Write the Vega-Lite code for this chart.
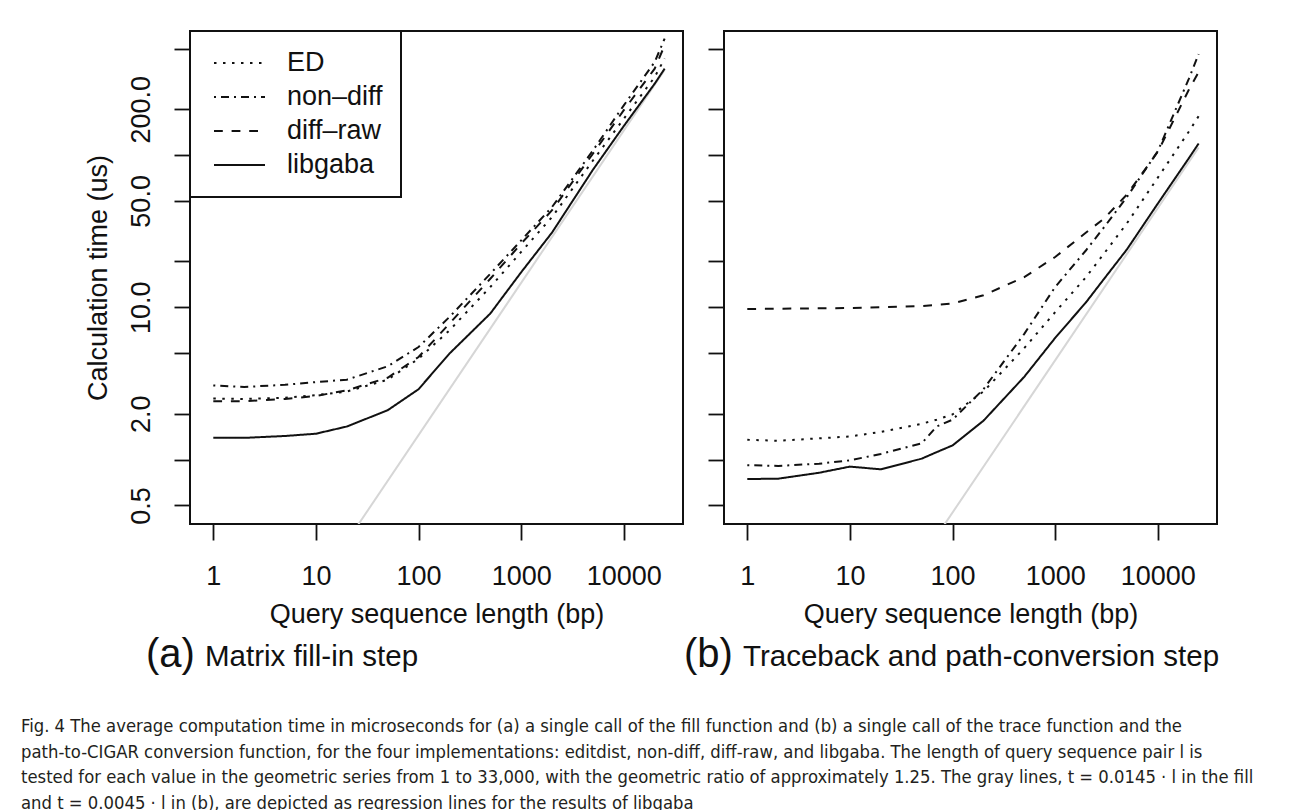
{
  "$schema": "https://vega.github.io/schema/vega-lite/v6.json",
  "background": "white",
  "padding": {"left": 20, "top": 30, "right": 0, "bottom": 0},
  "datasets": {
    "timing": [
      {"panel": "a", "impl": "ED", "l": 1, "t": 2.52},
      {"panel": "a", "impl": "ED", "l": 2, "t": 2.5},
      {"panel": "a", "impl": "ED", "l": 5, "t": 2.55},
      {"panel": "a", "impl": "ED", "l": 10, "t": 2.65},
      {"panel": "a", "impl": "ED", "l": 20, "t": 2.8},
      {"panel": "a", "impl": "ED", "l": 50, "t": 3.35},
      {"panel": "a", "impl": "ED", "l": 100, "t": 4.6},
      {"panel": "a", "impl": "ED", "l": 200, "t": 7.06},
      {"panel": "a", "impl": "ED", "l": 500, "t": 13.6},
      {"panel": "a", "impl": "ED", "l": 1000, "t": 23.1},
      {"panel": "a", "impl": "ED", "l": 2000, "t": 39.2},
      {"panel": "a", "impl": "ED", "l": 5000, "t": 92},
      {"panel": "a", "impl": "ED", "l": 10000, "t": 173},
      {"panel": "a", "impl": "ED", "l": 20000, "t": 325},
      {"panel": "a", "impl": "ED", "l": 25000, "t": 430},
      {"panel": "a", "impl": "non–diff", "l": 1, "t": 3.07},
      {"panel": "a", "impl": "non–diff", "l": 2, "t": 3.0},
      {"panel": "a", "impl": "non–diff", "l": 5, "t": 3.1},
      {"panel": "a", "impl": "non–diff", "l": 10, "t": 3.23},
      {"panel": "a", "impl": "non–diff", "l": 20, "t": 3.35},
      {"panel": "a", "impl": "non–diff", "l": 50, "t": 4.1},
      {"panel": "a", "impl": "non–diff", "l": 100, "t": 5.49},
      {"panel": "a", "impl": "non–diff", "l": 200, "t": 8.64},
      {"panel": "a", "impl": "non–diff", "l": 500, "t": 16.6},
      {"panel": "a", "impl": "non–diff", "l": 1000, "t": 27.5},
      {"panel": "a", "impl": "non–diff", "l": 2000, "t": 45.6},
      {"panel": "a", "impl": "non–diff", "l": 5000, "t": 107},
      {"panel": "a", "impl": "non–diff", "l": 10000, "t": 212},
      {"panel": "a", "impl": "non–diff", "l": 20000, "t": 408},
      {"panel": "a", "impl": "non–diff", "l": 25000, "t": 581},
      {"panel": "a", "impl": "diff–raw", "l": 1, "t": 2.42},
      {"panel": "a", "impl": "diff–raw", "l": 2, "t": 2.42},
      {"panel": "a", "impl": "diff–raw", "l": 5, "t": 2.5},
      {"panel": "a", "impl": "diff–raw", "l": 10, "t": 2.62},
      {"panel": "a", "impl": "diff–raw", "l": 20, "t": 2.85},
      {"panel": "a", "impl": "diff–raw", "l": 50, "t": 3.45},
      {"panel": "a", "impl": "diff–raw", "l": 100, "t": 4.72},
      {"panel": "a", "impl": "diff–raw", "l": 200, "t": 7.82},
      {"panel": "a", "impl": "diff–raw", "l": 500, "t": 15.4},
      {"panel": "a", "impl": "diff–raw", "l": 1000, "t": 26.2},
      {"panel": "a", "impl": "diff–raw", "l": 2000, "t": 43.4},
      {"panel": "a", "impl": "diff–raw", "l": 5000, "t": 102},
      {"panel": "a", "impl": "diff–raw", "l": 10000, "t": 197},
      {"panel": "a", "impl": "diff–raw", "l": 20000, "t": 369},
      {"panel": "a", "impl": "diff–raw", "l": 25000, "t": 525},
      {"panel": "a", "impl": "libgaba", "l": 1, "t": 1.39},
      {"panel": "a", "impl": "libgaba", "l": 2, "t": 1.39},
      {"panel": "a", "impl": "libgaba", "l": 5, "t": 1.43},
      {"panel": "a", "impl": "libgaba", "l": 10, "t": 1.48},
      {"panel": "a", "impl": "libgaba", "l": 20, "t": 1.65},
      {"panel": "a", "impl": "libgaba", "l": 50, "t": 2.11},
      {"panel": "a", "impl": "libgaba", "l": 100, "t": 2.9},
      {"panel": "a", "impl": "libgaba", "l": 200, "t": 4.97},
      {"panel": "a", "impl": "libgaba", "l": 500, "t": 9.1},
      {"panel": "a", "impl": "libgaba", "l": 1000, "t": 17},
      {"panel": "a", "impl": "libgaba", "l": 2000, "t": 31},
      {"panel": "a", "impl": "libgaba", "l": 5000, "t": 80},
      {"panel": "a", "impl": "libgaba", "l": 10000, "t": 155},
      {"panel": "a", "impl": "libgaba", "l": 20000, "t": 294},
      {"panel": "a", "impl": "libgaba", "l": 25000, "t": 369},

      {"panel": "b", "impl": "ED", "l": 1, "t": 1.35},
      {"panel": "b", "impl": "ED", "l": 2, "t": 1.33},
      {"panel": "b", "impl": "ED", "l": 5, "t": 1.38},
      {"panel": "b", "impl": "ED", "l": 10, "t": 1.42},
      {"panel": "b", "impl": "ED", "l": 20, "t": 1.52},
      {"panel": "b", "impl": "ED", "l": 50, "t": 1.72},
      {"panel": "b", "impl": "ED", "l": 70, "t": 1.83},
      {"panel": "b", "impl": "ED", "l": 100, "t": 1.98},
      {"panel": "b", "impl": "ED", "l": 200, "t": 2.8},
      {"panel": "b", "impl": "ED", "l": 500, "t": 5.4},
      {"panel": "b", "impl": "ED", "l": 1000, "t": 9.3},
      {"panel": "b", "impl": "ED", "l": 2000, "t": 15.8},
      {"panel": "b", "impl": "ED", "l": 3000, "t": 22.6},
      {"panel": "b", "impl": "ED", "l": 5000, "t": 35.6},
      {"panel": "b", "impl": "ED", "l": 10000, "t": 71},
      {"panel": "b", "impl": "ED", "l": 20000, "t": 142},
      {"panel": "b", "impl": "ED", "l": 25000, "t": 180},
      {"panel": "b", "impl": "non–diff", "l": 1, "t": 0.92},
      {"panel": "b", "impl": "non–diff", "l": 2, "t": 0.91},
      {"panel": "b", "impl": "non–diff", "l": 5, "t": 0.94},
      {"panel": "b", "impl": "non–diff", "l": 10, "t": 0.99},
      {"panel": "b", "impl": "non–diff", "l": 20, "t": 1.09},
      {"panel": "b", "impl": "non–diff", "l": 50, "t": 1.28},
      {"panel": "b", "impl": "non–diff", "l": 70, "t": 1.65},
      {"panel": "b", "impl": "non–diff", "l": 100, "t": 1.83},
      {"panel": "b", "impl": "non–diff", "l": 200, "t": 2.9},
      {"panel": "b", "impl": "non–diff", "l": 500, "t": 6.7},
      {"panel": "b", "impl": "non–diff", "l": 1000, "t": 13.6},
      {"panel": "b", "impl": "non–diff", "l": 2000, "t": 23.7},
      {"panel": "b", "impl": "non–diff", "l": 3000, "t": 33.6},
      {"panel": "b", "impl": "non–diff", "l": 5000, "t": 53},
      {"panel": "b", "impl": "non–diff", "l": 10000, "t": 106},
      {"panel": "b", "impl": "non–diff", "l": 20000, "t": 315},
      {"panel": "b", "impl": "non–diff", "l": 25000, "t": 460},
      {"panel": "b", "impl": "diff–raw", "l": 1, "t": 9.75},
      {"panel": "b", "impl": "diff–raw", "l": 2, "t": 9.8},
      {"panel": "b", "impl": "diff–raw", "l": 5, "t": 9.85},
      {"panel": "b", "impl": "diff–raw", "l": 10, "t": 9.9},
      {"panel": "b", "impl": "diff–raw", "l": 20, "t": 10.0},
      {"panel": "b", "impl": "diff–raw", "l": 50, "t": 10.2},
      {"panel": "b", "impl": "diff–raw", "l": 70, "t": 10.4},
      {"panel": "b", "impl": "diff–raw", "l": 100, "t": 10.6},
      {"panel": "b", "impl": "diff–raw", "l": 200, "t": 12.0},
      {"panel": "b", "impl": "diff–raw", "l": 500, "t": 15.8},
      {"panel": "b", "impl": "diff–raw", "l": 1000, "t": 21.4},
      {"panel": "b", "impl": "diff–raw", "l": 2000, "t": 31},
      {"panel": "b", "impl": "diff–raw", "l": 3000, "t": 38.3},
      {"panel": "b", "impl": "diff–raw", "l": 5000, "t": 55},
      {"panel": "b", "impl": "diff–raw", "l": 10000, "t": 105},
      {"panel": "b", "impl": "diff–raw", "l": 20000, "t": 267},
      {"panel": "b", "impl": "diff–raw", "l": 25000, "t": 351},
      {"panel": "b", "impl": "libgaba", "l": 1, "t": 0.746},
      {"panel": "b", "impl": "libgaba", "l": 2, "t": 0.75},
      {"panel": "b", "impl": "libgaba", "l": 5, "t": 0.82},
      {"panel": "b", "impl": "libgaba", "l": 10, "t": 0.9},
      {"panel": "b", "impl": "libgaba", "l": 20, "t": 0.864},
      {"panel": "b", "impl": "libgaba", "l": 50, "t": 1.015},
      {"panel": "b", "impl": "libgaba", "l": 70, "t": 1.12},
      {"panel": "b", "impl": "libgaba", "l": 100, "t": 1.24},
      {"panel": "b", "impl": "libgaba", "l": 200, "t": 1.8},
      {"panel": "b", "impl": "libgaba", "l": 500, "t": 3.5},
      {"panel": "b", "impl": "libgaba", "l": 1000, "t": 6.3},
      {"panel": "b", "impl": "libgaba", "l": 2000, "t": 10.8},
      {"panel": "b", "impl": "libgaba", "l": 3000, "t": 15.4},
      {"panel": "b", "impl": "libgaba", "l": 5000, "t": 24},
      {"panel": "b", "impl": "libgaba", "l": 10000, "t": 48},
      {"panel": "b", "impl": "libgaba", "l": 20000, "t": 95},
      {"panel": "b", "impl": "libgaba", "l": 25000, "t": 119}
    ],
    "gray": [
      {"panel": "a", "l": 10, "t": 0.145},
      {"panel": "a", "l": 25000, "t": 362},
      {"panel": "b", "l": 30, "t": 0.135},
      {"panel": "b", "l": 25000, "t": 112}
    ]
  },
  "config": {
    "font": "Liberation Sans",
    "view": {"stroke": "#111", "strokeWidth": 2},
    "axis": {
      "domain": false,
      "grid": false,
      "tickColor": "#111",
      "tickWidth": 1.8,
      "tickSize": 16,
      "labelFont": "Liberation Sans",
      "labelFontSize": 27,
      "labelColor": "#111",
      "titleFont": "Liberation Sans",
      "titleFontSize": 27,
      "titleFontWeight": "normal",
      "titleColor": "#111",
      "labelOverlap": false,
      "labelFlush": false
    },
    "title": {"font": "Liberation Sans", "fontWeight": "normal", "color": "#111"}
  },
  "title": {
    "text": [
      "Fig. 4 The average computation time in microseconds for (a) a single call of the fill function and (b) a single call of the trace function and the",
      "path-to-CIGAR conversion function, for the four implementations: editdist, non-diff, diff-raw, and libgaba. The length of query sequence pair l is",
      "tested for each value in the geometric series from 1 to 33,000, with the geometric ratio of approximately 1.25. The gray lines, t = 0.0145 · l in the fill",
      "and t = 0.0045 · l in (b), are depicted as regression lines for the results of libgaba"
    ],
    "orient": "bottom",
    "anchor": "start",
    "frame": "bounds",
    "font": "'DejaVu Sans Condensed', 'Liberation Sans', sans-serif",
    "fontSize": 18.3,
    "fontWeight": "normal",
    "lineHeight": 25.5,
    "color": "#231f20",
    "offset": 42,
    "dx": -62
  },
  "bounds": "flush",
  "spacing": 41,
  "hconcat": [
    {
      "width": 493,
      "height": 493,
      "title": {
        "text": "(a)",
        "subtitle": "\u200b\u2003\u2003Matrix fill-in step",
        "orient": "bottom",
        "anchor": "start",
        "frame": "group",
        "dx": -44,
        "offset": 8,
        "fontSize": 40,
        "subtitleFont": "Liberation Sans",
        "subtitleFontSize": 29.5,
        "subtitleColor": "#111",
        "subtitlePadding": -32
      },
      "layer": [
        {
          "data": {"name": "gray"},
          "transform": [{"filter": "datum.panel == 'a'"}],
          "mark": {"type": "line", "color": "#d6d6d6", "strokeWidth": 2, "clip": true},
          "encoding": {
            "x": {"field": "l", "type": "quantitative", "scale": {"type": "log", "domain": [0.593, 37740], "nice": false},
              "axis": {"values": [1, 10, 100, 1000, 10000], "format": "d", "title": "Query sequence length (bp)", "labelPadding": 23, "titlePadding": 12}},
            "y": {"field": "t", "type": "quantitative", "scale": {"type": "log", "domain": [0.378, 652], "nice": false},
              "axis": {"values": [0.5, 1, 2, 5, 10, 20, 50, 100, 200, 500], "labelExpr": "indexof([0.5, 2, 10, 50, 200], datum.value) >= 0 ? format(datum.value, '.1f') : ''", "labelAngle": 270, "labelAlign": "center", "labelBaseline": "bottom", "labelPadding": 19, "title": "Calculation time (us)", "titlePadding": 15}}
          }
        },
        {
          "data": {"name": "timing"},
          "transform": [{"filter": "datum.panel == 'a'"}],
          "mark": {"type": "line", "color": "#111", "strokeWidth": 2, "strokeCap": "butt", "clip": true},
          "encoding": {
            "x": {"field": "l", "type": "quantitative"},
            "y": {"field": "t", "type": "quantitative"},
            "strokeDash": {
              "field": "impl", "type": "nominal",
              "scale": {"domain": ["ED", "non–diff", "diff–raw", "libgaba"], "range": [[2.5, 6.5], [2, 5, 8, 5], [8.8, 8.8], [1, 0]]},
              "legend": {
                "orient": "top-left", "offset": 0, "title": null,
                "symbolType": "stroke", "symbolSize": 2601, "symbolStrokeWidth": 2, "symbolStrokeColor": "#111",
                "labelFont": "Liberation Sans", "labelFontSize": 27, "labelColor": "#111",
                "clipHeight": 28, "rowPadding": 6, "padding": 18, "symbolOffset": 5, "labelOffset": 21,
                "strokeColor": "#111", "fillColor": "white",
                "encode": {"legend": {"update": {"strokeWidth": {"value": 2}}}}
              }
            }
          }
        }
      ]
    },
    {
      "width": 493,
      "height": 493,
      "title": {
        "text": "(b)",
        "subtitle": "\u200b\u2003\u2003Traceback and path-conversion step",
        "orient": "bottom",
        "anchor": "start",
        "frame": "group",
        "dx": -40,
        "offset": 8,
        "fontSize": 40,
        "subtitleFont": "Liberation Sans",
        "subtitleFontSize": 29.5,
        "subtitleColor": "#111",
        "subtitlePadding": -32
      },
      "layer": [
        {
          "data": {"name": "gray"},
          "transform": [{"filter": "datum.panel == 'b'"}],
          "mark": {"type": "line", "color": "#d6d6d6", "strokeWidth": 2, "clip": true},
          "encoding": {
            "x": {"field": "l", "type": "quantitative", "scale": {"type": "log", "domain": [0.593, 37740], "nice": false},
              "axis": {"values": [1, 10, 100, 1000, 10000], "format": "d", "title": "Query sequence length (bp)", "labelPadding": 23, "titlePadding": 12}},
            "y": {"field": "t", "type": "quantitative", "scale": {"type": "log", "domain": [0.378, 652], "nice": false},
              "axis": {"values": [0.5, 1, 2, 5, 10, 20, 50, 100, 200, 500], "labels": false, "title": null}}
          }
        },
        {
          "data": {"name": "timing"},
          "transform": [{"filter": "datum.panel == 'b'"}],
          "mark": {"type": "line", "color": "#111", "strokeWidth": 2, "strokeCap": "butt", "clip": true},
          "encoding": {
            "x": {"field": "l", "type": "quantitative"},
            "y": {"field": "t", "type": "quantitative"},
            "strokeDash": {
              "field": "impl", "type": "nominal",
              "scale": {"domain": ["ED", "non–diff", "diff–raw", "libgaba"], "range": [[2.5, 6.5], [2, 5, 8, 5], [8.8, 8.8], [1, 0]]},
              "legend": null
            }
          }
        }
      ]
    }
  ]
}
